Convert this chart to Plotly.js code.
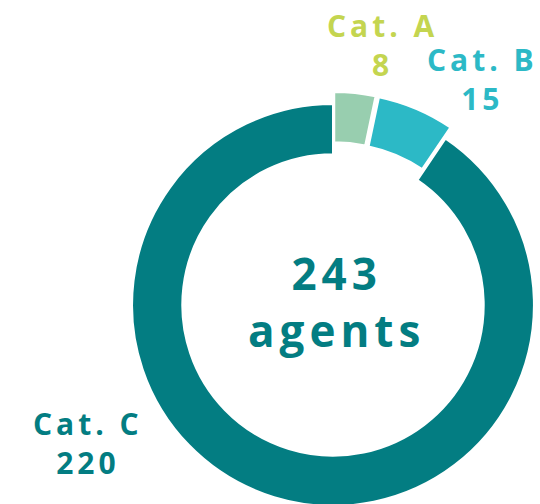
<!DOCTYPE html>
<html>
<head>
<meta charset="utf-8">
<script src="https://cdn.plot.ly/plotly-3.0.1.min.js"></script>
<style>
  html, body { margin: 0; padding: 0; overflow: hidden; background: #fff; }
  #chart { width: 560px; height: 560px; }
  .annotation-text { letter-spacing: 4px; }
</style>
</head>
<body>
<div id="chart"></div>
<script>
const categories = ["Cat. A", "Cat. B", "Cat. C"];
const values = [8, 15, 220];
const sliceColors = ["#98CEAF", "#2CB9C6", "#037D82"];
const labelColors = ["#C4D550", "#2CB9C6", "#037D82"];
const pulls = [0.06, 0.06, 0];
const totalLabel = "agents";

const W = 560, H = 560;
const px = x => x / W;
const py = y => 1 - y / H;

const total = values.reduce((a, b) => a + b, 0);

const trace = {
  type: "pie",
  labels: categories,
  values: values,
  hole: 0.75,
  sort: false,
  direction: "clockwise",
  rotation: 0,
  pull: pulls,
  textinfo: "none",
  hoverinfo: "label+value",
  marker: { colors: sliceColors, line: { color: "#ffffff", width: 2 } },
  domain: { x: [px(120), px(546)], y: [py(519), py(91)] },
  showlegend: false
};

const labelPos = [[382, 45], [482, 79], [88, 443]];
const font = "'Open Sans', Lato, sans-serif";
const annotations = categories.map((c, i) => ({
  xref: "paper", yref: "paper",
  x: px(labelPos[i][0]), y: py(labelPos[i][1]),
  xanchor: "center", yanchor: "middle",
  showarrow: false,
  text: c + "<br>" + values[i],
  font: { family: font, size: 30, color: labelColors[i], weight: 700 }
}));
annotations.push({
  xref: "paper", yref: "paper", x: px(336), y: py(301),
  xanchor: "center", yanchor: "middle", showarrow: false,
  text: '<span style="letter-spacing:5px">' + total + '</span><br><span style="letter-spacing:5px">' + totalLabel + '</span>',
  font: { family: font, size: 44, color: "#037D82", weight: 700 }
});

const layout = {
  width: W, height: H,
  margin: { l: 0, r: 0, t: 0, b: 0 },
  paper_bgcolor: "#ffffff",
  annotations: annotations
};

Plotly.newPlot("chart", [trace], layout, { displayModeBar: false, staticPlot: true });
</script>
</body>
</html>
